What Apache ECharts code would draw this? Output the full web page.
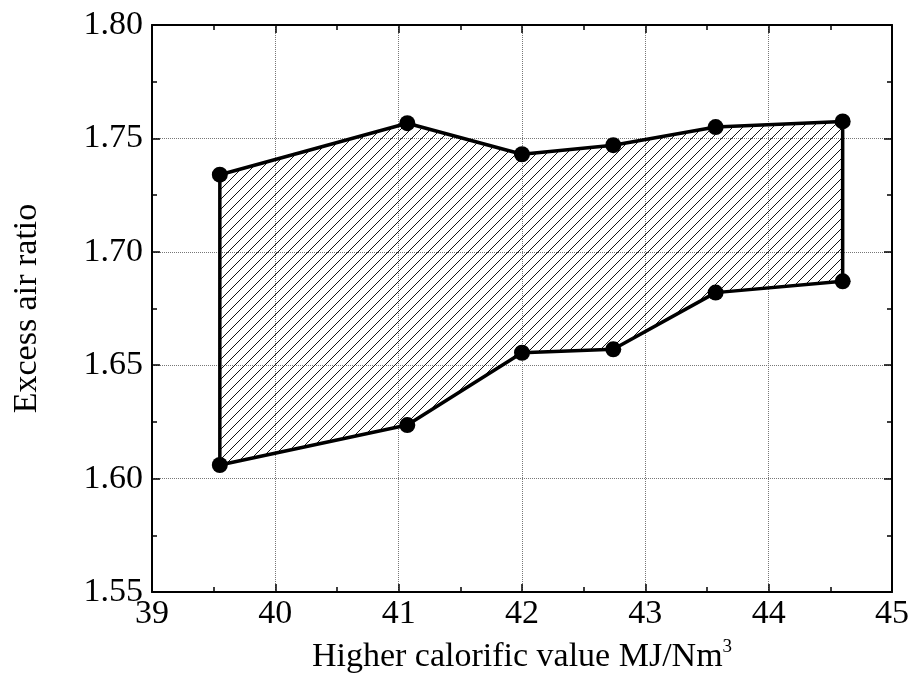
<!DOCTYPE html>
<html>
<head>
<meta charset="utf-8">
<script src="https://cdn.jsdelivr.net/npm/echarts@6/dist/echarts.min.js"></script>
<style>
  html, body { margin: 0; padding: 0; background: #fff; }
  #main { width: 912px; height: 684px; }
</style>
</head>
<body>
<div id="main"></div>
<script>
// data
var xVals = [39.55, 41.07, 42.0, 42.74, 43.57, 44.6];
var upper = [1.734, 1.7567, 1.743, 1.747, 1.755, 1.7575];
var lower = [1.606, 1.6236, 1.6555, 1.657, 1.682, 1.687];

var FONT = 'Liberation Serif';

// hatch pattern for the band
var hatch = document.createElement('canvas');
hatch.width = 10;
hatch.height = 10;
var ctx = hatch.getContext('2d');
ctx.strokeStyle = '#111';
ctx.lineWidth = 1;
ctx.beginPath();
ctx.moveTo(0, 10); ctx.lineTo(10, 0);
ctx.moveTo(-2, 2); ctx.lineTo(2, -2);
ctx.moveTo(8, 12); ctx.lineTo(12, 8);
ctx.stroke();

var myChart = echarts.init(document.getElementById('main'));

var points = [];
xVals.forEach(function (x, i) { points.push([x, upper[i]]); });
xVals.forEach(function (x, i) { points.push([x, lower[i]]); });

var axisCommon = {
    axisLine: { lineStyle: { color: '#000', width: 2 } },
    axisTick: { inside: true, length: 8, lineStyle: { color: '#000', width: 1.5 } },
    minorTick: { show: true, splitNumber: 2, length: 5, lineStyle: { color: '#000', width: 1.5 } }
};

var option = {
    backgroundColor: '#fff',
    animation: false,
    grid: { left: 152, right: 20, top: 25, bottom: 92 },
    xAxis: [
        Object.assign({
            type: 'value', min: 39, max: 45, interval: 1,
            name: 'Higher calorific value MJ/Nm{sup|3}',
            nameLocation: 'middle', nameGap: 46,
            nameTextStyle: {
                fontFamily: FONT, fontSize: 34, color: '#000',
                rich: { sup: { fontFamily: FONT, fontSize: 19, color: '#000', verticalAlign: 'top', padding: [0, 0, 20, 0] } }
            },
            axisLabel: { fontFamily: FONT, fontSize: 34, color: '#000', margin: 5 },
            splitLine: { show: true, lineStyle: { color: '#777', type: 'dotted', width: 1 } }
        }, axisCommon),
        Object.assign({
            type: 'value', min: 39, max: 45, interval: 1, position: 'top',
            axisLabel: { show: false }, splitLine: { show: false }
        }, axisCommon)
    ],
    yAxis: [
        Object.assign({
            type: 'value', min: 1.55, max: 1.80, interval: 0.05,
            name: 'Excess air ratio',
            nameLocation: 'middle', nameGap: 108, nameRotate: 90,
            nameTextStyle: { fontFamily: FONT, fontSize: 34, color: '#000' },
            axisLabel: {
                fontFamily: FONT, fontSize: 34, color: '#000', margin: 9,
                formatter: function (v) { return v.toFixed(2); }
            },
            splitLine: { show: true, lineStyle: { color: '#777', type: 'dotted', width: 1 } }
        }, axisCommon),
        Object.assign({
            type: 'value', min: 1.55, max: 1.80, interval: 0.05, position: 'right',
            axisLabel: { show: false }, splitLine: { show: false }
        }, axisCommon)
    ],
    series: [
        {
            type: 'custom',
            data: [[xVals[0], upper[0]]],
            renderItem: function (params, api) {
                var pts = [];
                for (var i = 0; i < xVals.length; i++) pts.push(api.coord([xVals[i], upper[i]]));
                for (var j = xVals.length - 1; j >= 0; j--) pts.push(api.coord([xVals[j], lower[j]]));
                return {
                    type: 'polygon',
                    shape: { points: pts },
                    style: { fill: { image: hatch, repeat: 'repeat' }, stroke: '#000', lineWidth: 3.5, lineJoin: 'round' }
                };
            },
            z: 2
        },
        {
            type: 'scatter',
            data: points,
            symbol: 'circle',
            symbolSize: 16,
            itemStyle: { color: '#000', opacity: 1 },
            z: 3
        }
    ]
};

myChart.setOption(option);
</script>
</body>
</html>
